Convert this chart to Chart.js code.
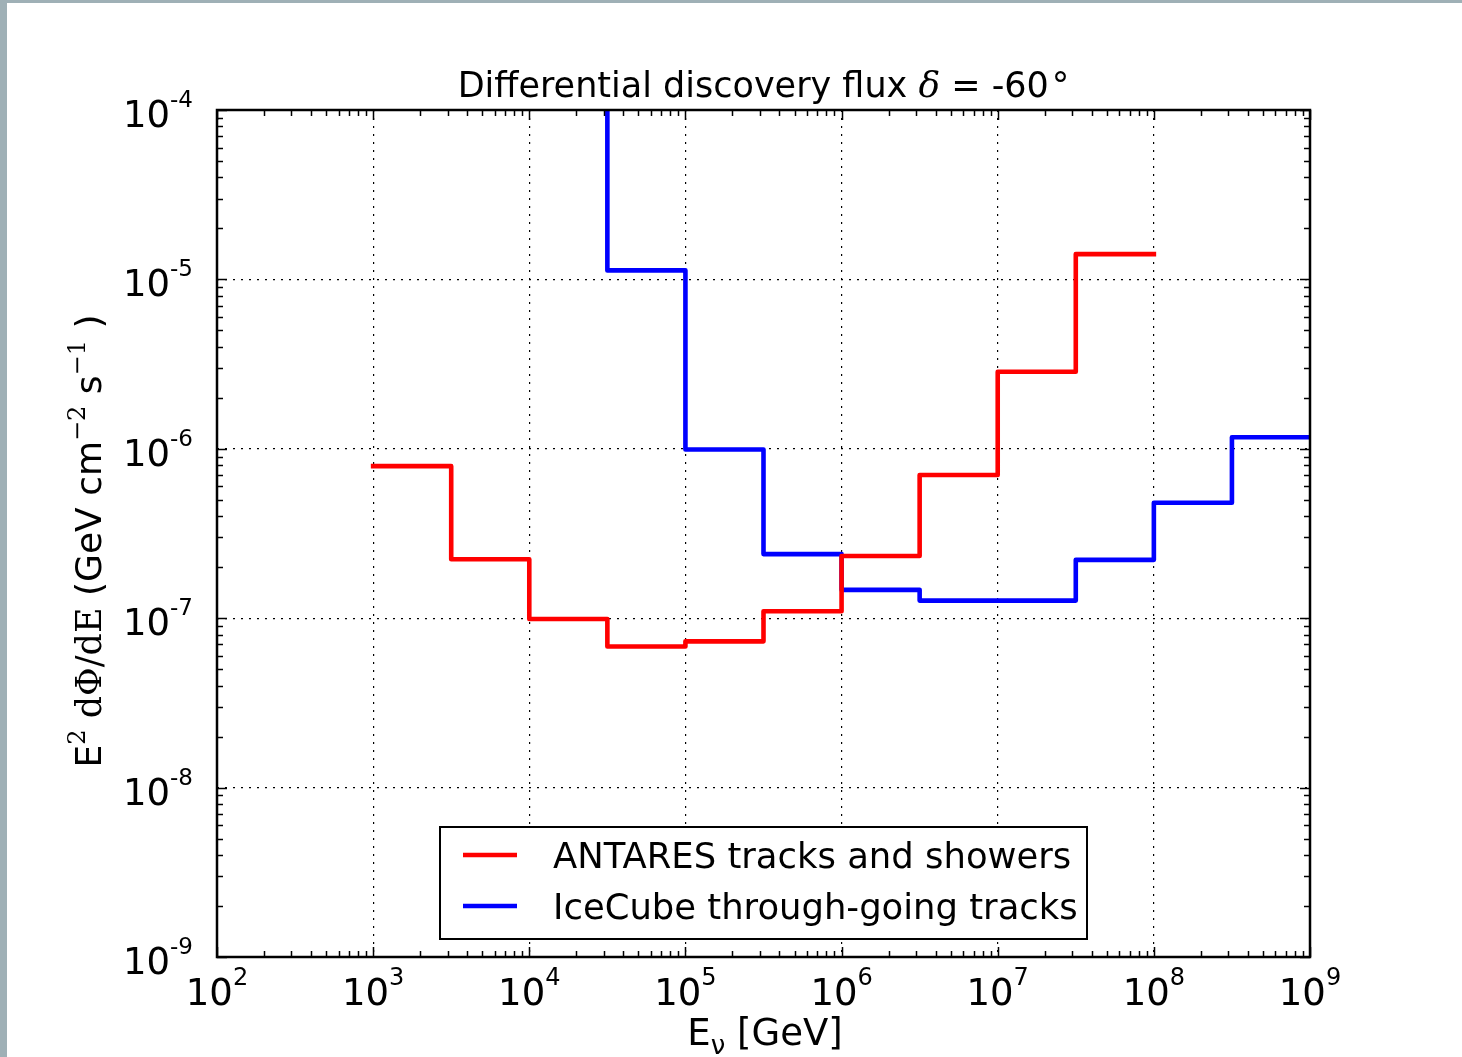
<!DOCTYPE html>
<html>
<head>
<meta charset="utf-8">
<script src="https://cdn.jsdelivr.net/npm/chart.js@4.4.0/dist/chart.umd.min.js"></script>
<style>
  html, body { margin: 0; padding: 0; background: #fff; }
  #edgeL { position: absolute; left: 0; top: 0; width: 7px; height: 1057px; background: #9fb0b6; }
  #edgeT { position: absolute; left: 0; top: 0; width: 1462px; height: 3px; background: #9fb0b6; }
  #c { position: absolute; left: 0; top: 0; }
</style>
</head>
<body>
<div id="edgeL"></div><div id="edgeT"></div>
<canvas id="c" width="1462" height="1057"></canvas>
<script>
// bin edges (GeV), half-decade bins
const antaresEdges = [1e3, 3162, 1e4, 31623, 1e5, 316228, 1e6, 3162278, 1e7, 31622777, 1e8];
const antaresFlux = [7.9e-7, 2.23e-7, 9.9e-8, 6.8e-8, 7.3e-8, 1.1e-7, 2.33e-7, 7.0e-7, 2.85e-6, 1.41e-5];
const icecubeEdges = [1e4, 31623, 1e5, 316228, 1e6, 3162278, 1e7, 31622777, 1e8, 316227766, 1e9];
const icecubeFlux = [3e-4, 1.13e-5, 9.9e-7, 2.39e-7, 1.47e-7, 1.27e-7, 1.27e-7, 2.21e-7, 4.8e-7, 1.17e-6];

const xTicks = [1e2, 1e3, 1e4, 1e5, 1e6, 1e7, 1e8, 1e9];
const xTickExp = ['2', '3', '4', '5', '6', '7', '8', '9'];
const yTicks = [1e-9, 1e-8, 1e-7, 1e-6, 1e-5, 1e-4];
const yTickExp = ['-9', '-8', '-7', '-6', '-5', '-4'];

const SANS = '"DejaVu Sans", sans-serif';
const SERIF = '"DejaVu Serif", serif';

// un point par bord gauche de bin + un point final pour fermer le dernier bin
function steps(edges, vals) {
  const pts = vals.map((v, i) => ({ x: edges[i], y: v }));
  pts.push({ x: edges[vals.length], y: vals[vals.length - 1] });
  return pts;
}

// texte composé : [{t, font, dy, gap}]
function runs(ctx, parts, x, y, align) {
  let w = 0;
  for (const p of parts) { ctx.font = p.font; w += ctx.measureText(p.t).width + (p.gap || 0); }
  let cx = align === 'center' ? x - w / 2 : align === 'right' ? x - w : x;
  ctx.textAlign = 'left';
  ctx.textBaseline = 'alphabetic';
  for (const p of parts) {
    ctx.font = p.font;
    cx += p.gap || 0;
    ctx.fillText(p.t, cx, y + (p.dy || 0));
    cx += ctx.measureText(p.t).width;
  }
}

const decor = {
  id: 'decor',
  afterDatasetsDraw(chart) {
    const { ctx, chartArea: a, scales: { x, y } } = chart;
    ctx.save();
    ctx.strokeStyle = '#000';
    ctx.lineWidth = 1.5;
    ctx.beginPath();
    // graduations majeures et mineures, vers l'intérieur sur les 4 côtés
    for (let d = 2; d <= 9; d++) {
      for (let k = 1; k <= 9; k++) {
        if (d === 9 && k > 1) break;
        const px = Math.round(x.getPixelForValue(k * Math.pow(10, d))) + 0.5;
        const len = k === 1 ? 10 : 6;
        ctx.moveTo(px, a.bottom); ctx.lineTo(px, a.bottom - len);
        ctx.moveTo(px, a.top); ctx.lineTo(px, a.top + len);
      }
    }
    for (let d = -9; d <= -4; d++) {
      for (let k = 1; k <= 9; k++) {
        if (d === -4 && k > 1) break;
        const py = Math.round(y.getPixelForValue(k * Math.pow(10, d))) + 0.5;
        const len = k === 1 ? 10 : 6;
        ctx.moveTo(a.left, py); ctx.lineTo(a.left + len, py);
        ctx.moveTo(a.right, py); ctx.lineTo(a.right - len, py);
      }
    }
    ctx.stroke();
    ctx.lineWidth = 2.5;
    ctx.strokeRect(a.left, a.top, a.right - a.left, a.bottom - a.top);
    ctx.restore();
  },
  afterDraw(chart) {
    const { ctx, chartArea: a, scales: { x, y } } = chart;
    ctx.save();
    ctx.fillStyle = '#000';
    xTicks.forEach((v, i) => {
      runs(ctx, [
        { t: '10', font: `37px ${SANS}` },
        { t: xTickExp[i], font: `24px ${SANS}`, dy: -20 },
      ], x.getPixelForValue(v), 1005, 'center');
    });
    yTicks.forEach((v, i) => {
      runs(ctx, [
        { t: '10', font: `37px ${SANS}` },
        { t: yTickExp[i], font: `23px ${SANS}`, dy: -20 },
      ], 193, y.getPixelForValue(v) + 17, 'right');
    });

    // titre
    runs(ctx, [
      { t: 'Differential discovery flux ', font: `35px ${SANS}` },
      { t: 'δ', font: `italic 36px ${SERIF}` },
      { t: ' = -60', font: `35px ${SANS}` },
      { t: '°', font: `35px ${SANS}`, gap: 3 },
    ], (a.left + a.right) / 2, 97, 'center');

    // axe x
    runs(ctx, [
      { t: 'E', font: `37px ${SANS}` },
      { t: 'ν', font: `26px ${SANS}`, dy: 9 },
      { t: ' [GeV]', font: `37px ${SANS}` },
    ], 765, 1045, 'center');

    // axe y
    ctx.save();
    ctx.translate(101, 541);
    ctx.rotate(-Math.PI / 2);
    runs(ctx, [
      { t: 'E', font: `36px ${SANS}` },
      { t: '2', font: `24px ${SERIF}`, dy: -16 },
      { t: ' dΦ/dE', font: `35px ${SERIF}` },
      { t: ' (GeV cm', font: `36px ${SANS}` },
      { t: '−2', font: `24px ${SERIF}`, dy: -16 },
      { t: ' s', font: `36px ${SANS}` },
      { t: '−1', font: `24px ${SERIF}`, dy: -16 },
      { t: ' )', font: `36px ${SANS}` },
    ], 0, 0, 'center');
    ctx.restore();

    // légende
    const bx = 440, by = 827, bw = 647, bh = 112;
    ctx.fillStyle = '#fff';
    ctx.fillRect(bx, by, bw, bh);
    ctx.strokeStyle = '#000';
    ctx.lineWidth = 2;
    ctx.strokeRect(bx, by, bw, bh);
    chart.data.datasets.forEach((ds, i) => {
      const ly = 855 + i * 51;
      ctx.strokeStyle = ds.borderColor;
      ctx.lineWidth = 4.5;
      ctx.beginPath(); ctx.moveTo(463, ly); ctx.lineTo(517, ly); ctx.stroke();
      ctx.fillStyle = '#000';
      ctx.font = `35.4px ${SANS}`;
      ctx.textAlign = 'left';
      ctx.fillText(ds.label, 553, ly + 13);
    });
    ctx.restore();
  }
};

const grille = (ticks) => ({
  grid: { color: '#000', lineWidth: 1.2, drawTicks: false },
  border: { display: false, dash: [2, 6] },
  ticks: { display: false },
  afterBuildTicks: (s) => { s.ticks = ticks.map(v => ({ value: v })); },
});

new Chart(document.getElementById('c'), {
  type: 'line',
  data: {
    datasets: [
      { label: 'ANTARES tracks and showers', data: steps(antaresEdges, antaresFlux), borderColor: '#ff0000' },
      { label: 'IceCube through-going tracks', data: steps(icecubeEdges, icecubeFlux), borderColor: '#0000ff' },
    ],
  },
  options: {
    responsive: false,
    animation: false,
    layout: { padding: { left: 217, right: 152, top: 110, bottom: 100 } },
    elements: {
      line: { stepped: 'before', borderWidth: 4.6, borderJoinStyle: 'round', borderCapStyle: 'square', fill: false },
      point: { radius: 0, hoverRadius: 0 },
    },
    datasets: { line: { clip: 0 } },
    plugins: { legend: { display: false }, tooltip: { enabled: false }, title: { display: false } },
    scales: {
      x: { type: 'logarithmic', min: 1e2, max: 1e9, ...grille(xTicks), afterFit: (s) => { s.height = 0; } },
      y: { type: 'logarithmic', min: 1e-9, max: 1e-4, ...grille(yTicks), afterFit: (s) => { s.width = 0; } },
    },
  },
  plugins: [decor],
});
</script>
</body>
</html>
